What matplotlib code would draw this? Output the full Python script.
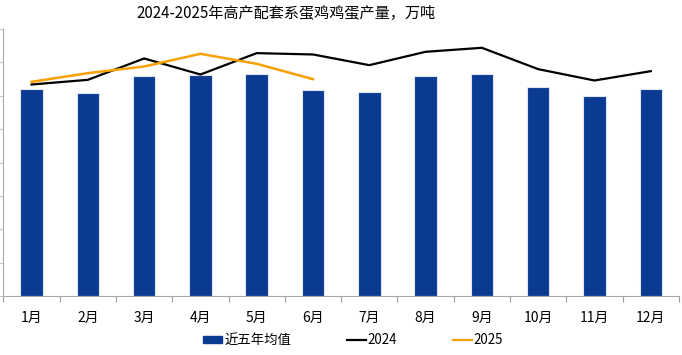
import numpy as np
import matplotlib.pyplot as plt
from matplotlib.lines import Line2D
from matplotlib.patches import Patch

plt.rcParams['font.family'] = ['Noto Sans CJK SC', 'DejaVu Sans']

months = ['1月', '2月', '3月', '4月', '5月', '6月',
          '7月', '8月', '9月', '10月', '11月', '12月']
avg5 = [311, 304, 330, 331, 332, 309, 306, 329, 332, 313, 300, 311]
y2024 = [317, 324, 356, 332, 364, 362, 346, 366, 372, 340, 323, 337]
y2025 = [321, 334, 344, 363, 348, 325]

fig = plt.figure(figsize=(6.82, 3.55), dpi=100)
ax = fig.add_axes([0.005, 0.166, 0.9905, 0.752])

x = np.arange(len(months))
ax.bar(x, avg5, width=0.4, color='#0a3a92', edgecolor='#dfe6f2', linewidth=0.8)
ax.plot(x, y2024, color='black', lw=1.6)
ax.plot(x[:len(y2025)], y2025, color='#f7a100', lw=1.8)

ax.set_xlim(-0.5, 11.5)
ax.set_ylim(0, 400)
ax.set_yticks(np.arange(0, 401, 50))
ax.set_yticklabels([])
ax.set_xticks(np.arange(-0.5, 12, 1))
ax.set_xticklabels([])
ax.set_xticks(x, minor=True)
ax.set_xticklabels(months, minor=True, fontsize=10)
ax.tick_params(axis='x', which='minor', length=0, pad=11)
ax.tick_params(axis='x', which='major', length=4, color='#a0a0a0')
ax.tick_params(axis='y', length=3, color='#c8c8c8')

for s in ['top', 'right']:
    ax.spines[s].set_visible(False)
ax.spines['left'].set_color('#a8a8a8')
ax.spines['bottom'].set_color('#a8a8a8')

fig.text(0.42, 0.963, '2024-2025年高产配套系蛋鸡鸡蛋产量，万吨',
         ha='center', va='center', fontsize=10.9)

handles = [Patch(color='#0a3a92'),
           Line2D([0], [0], color='black', lw=1.6),
           Line2D([0], [0], color='#f7a100', lw=1.6)]
fig.legend(handles, ['近五年均值', '2024', '2025'], loc='center',
           bbox_to_anchor=(0.518, 0.042), ncol=3, frameon=False,
           fontsize=9.6, columnspacing=4.2, handlelength=1.4,
           handletextpad=0.15, handleheight=0.5)

fig.savefig('out.png', dpi=100)
